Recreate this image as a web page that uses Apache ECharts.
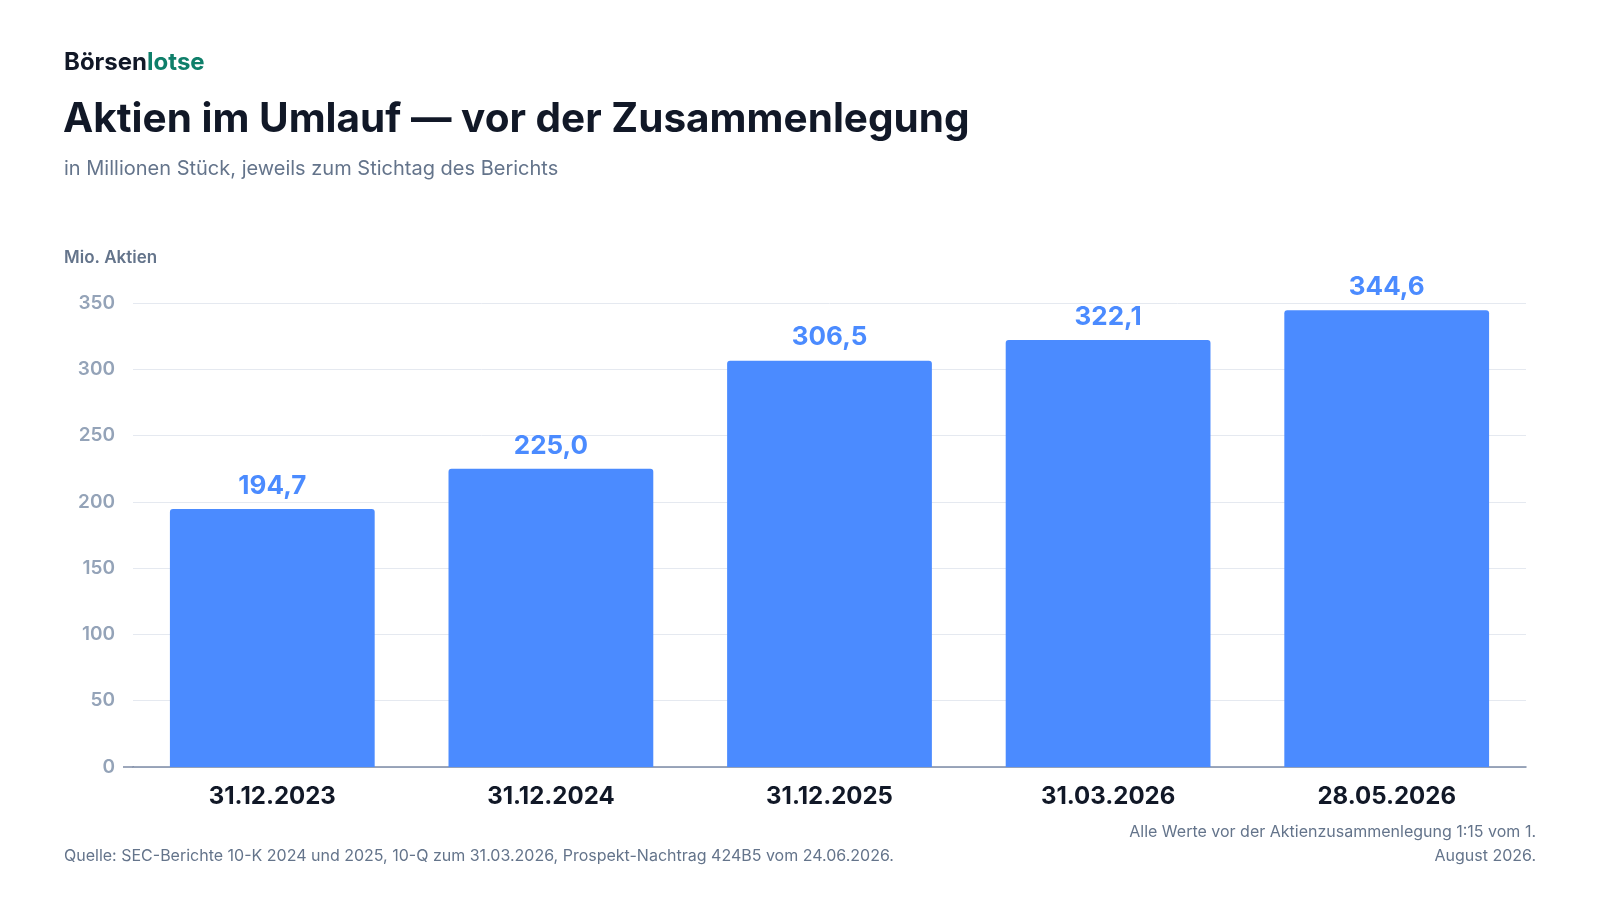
<!DOCTYPE html>
<html><head><meta charset="utf-8">
<script src="https://cdn.jsdelivr.net/npm/echarts@6/dist/echarts.min.js"></script>
<style>html,body{margin:0;background:#fff}#c{width:1600px;height:900px}</style>
</head><body><div id="c"></div>
<script>
const categories = ['31.12.2023','31.12.2024','31.12.2025','31.03.2026','28.05.2026'];
const shares = [194.7, 225.0, 306.5, 322.1, 344.6];
const yTicks = [0,50,100,150,200,250,300,350];

const chart = echarts.init(document.getElementById('c'));
const F = 'Inter, "Noto Sans", sans-serif';
chart.setOption({
  animation: false,
  textStyle: {fontFamily: F},
  graphic: [
    {type:'text', left:64, top:51, style:{rich:{a:{fill:'#111827',fontSize:24,fontWeight:700,fontFamily:F},b:{fill:'#0f7f6a',fontSize:24,fontWeight:700,fontFamily:F}}, text:'{a|Börsen}{b|lotse}'}},
    {type:'text', left:63, top:99, style:{text:'Aktien im Umlauf — vor der Zusammenlegung', fill:'#111827', fontSize:40.5, fontWeight:700, fontFamily:F}},
    {type:'text', left:64, top:159, style:{text:'in Millionen Stück, jeweils zum Stichtag des Berichts', fill:'#64748b', fontSize:20, fontFamily:F}},
    {type:'text', left:64, top:249, style:{text:'Mio. Aktien', fill:'#64748b', fontSize:17, fontWeight:600, fontFamily:F}},
    {type:'text', left:64, top:848, style:{text:'Quelle: SEC-Berichte 10-K 2024 und 2025, 10-Q zum 31.03.2026, Prospekt-Nachtrag 424B5 vom 24.06.2026.', fill:'#64748b', fontSize:16, fontFamily:F}},
    {type:'text', right:64, top:824, style:{text:'Alle Werte vor der Aktienzusammenlegung 1:15 vom 1.', fill:'#64748b', fontSize:16, fontFamily:F}},
    {type:'text', right:64, top:848, style:{text:'August 2026.', fill:'#64748b', fontSize:16, fontFamily:F}},
    // baseline extends a bit left of the first band
    {type:'line', shape:{x1:123, y1:767, x2:134, y2:767}, style:{stroke:'#7c8aa5', lineWidth:1.5}}
  ],
  grid: {left:133, right:74, top:303, bottom:133},
  xAxis: {
    type:'category', data: categories,
    axisTick:{show:false},
    axisLine:{lineStyle:{color:'#7c8aa5', width:1.5}},
    axisLabel:{color:'#111827', fontSize:24, fontWeight:700, margin:18}
  },
  yAxis: {
    type:'value', min: yTicks[0], max: yTicks[yTicks.length-1], interval: 50,
    axisLabel:{color:'#94a3b8', fontSize:19, fontWeight:600, margin:18},
    splitLine:{lineStyle:{color:'#e5e9f0'}}
  },
  series: [{
    type:'bar', data: shares, barWidth:'73.5%',
    itemStyle:{color:'#4b8bff', borderRadius:[3,3,0,0]},
    label:{show:true, position:'top', distance:10, color:'#4b8bff', fontSize:26, fontWeight:700,
      formatter: p => p.value.toFixed(1).replace('.', ',')}
  }]
});
</script></body></html>
